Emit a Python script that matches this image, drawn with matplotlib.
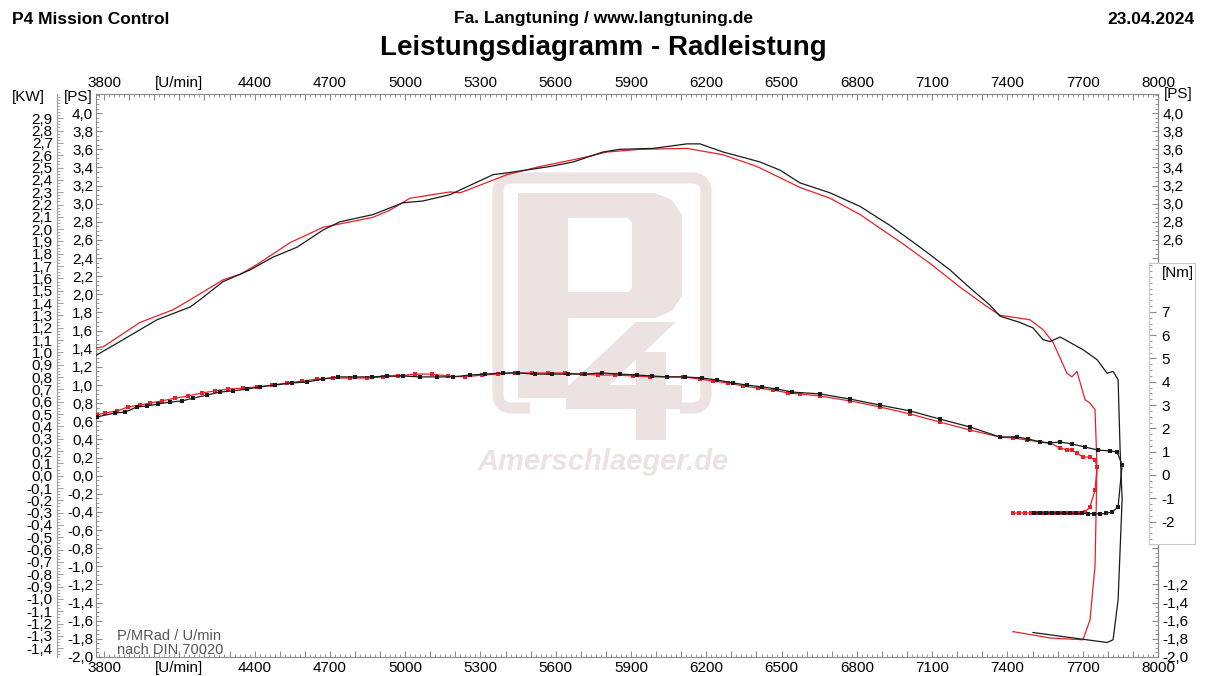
import matplotlib
matplotlib.use("Agg")
import numpy as np
import matplotlib.pyplot as plt
from matplotlib.ticker import MultipleLocator, FixedLocator, FuncFormatter
from matplotlib.patches import FancyBboxPatch, Polygon, Rectangle
from matplotlib.transforms import Affine2D

plt.rcParams['font.family'] = ['Liberation Sans', 'DejaVu Sans']

W, H = 1207, 676

# --- power (PS) over rpm, run 1 (black) and run 2 (red) ---
rpm_pw_black = [3770, 3876, 4011, 4143, 4182, 4274, 4382, 4473, 4569, 4673, 4740, 4872,
                4991, 5071, 5179, 5350, 5406, 5577, 5669, 5788, 5856, 5988, 6123, 6175,
                6267, 6362, 6414, 6494, 6573, 6693, 6813, 6932, 7052, 7171, 7251, 7331,
                7370, 7450, 7502, 7542, 7570, 7610, 7701, 7757, 7797, 7821, 7841, 7849,
                7857, 7841, 7821, 7797, 7502]
ps_black = [1.33, 1.50, 1.72, 1.86, 1.94, 2.14, 2.27, 2.41, 2.52, 2.71, 2.80, 2.88,
            3.01, 3.03, 3.10, 3.32, 3.34, 3.41, 3.46, 3.57, 3.60, 3.61, 3.66, 3.66,
            3.57, 3.50, 3.46, 3.37, 3.23, 3.12, 2.97, 2.76, 2.52, 2.27, 2.07, 1.88,
            1.76, 1.69, 1.63, 1.50, 1.48, 1.53, 1.39, 1.28, 1.13, 1.15, 1.06, 0.29,
            -0.26, -1.37, -1.81, -1.84, -1.73]

rpm_pw_red = [3770, 3796, 3943, 4075, 4143, 4274, 4342, 4410, 4541, 4673, 4872, 4940,
              5019, 5179, 5219, 5406, 5537, 5697, 5804, 5936, 6123, 6267, 6402, 6573,
              6693, 6813, 6892, 6972, 7092, 7211, 7311, 7370, 7490, 7542, 7582, 7637,
              7657, 7677, 7709, 7729, 7749, 7757, 7749, 7729, 7701, 7570, 7422]
ps_red = [1.41, 1.42, 1.69, 1.83, 1.94, 2.16, 2.22, 2.33, 2.57, 2.74, 2.85, 2.93,
          3.06, 3.13, 3.12, 3.32, 3.41, 3.50, 3.57, 3.60, 3.61, 3.54, 3.41, 3.18,
          3.06, 2.88, 2.73, 2.58, 2.34, 2.08, 1.88, 1.77, 1.72, 1.61, 1.47, 1.13,
          1.09, 1.15, 0.84, 0.80, 0.73, 0.10, -1.00, -1.59, -1.81, -1.79, -1.72]

# --- torque (Nm) over rpm ---
rpm_tq_black = [3770, 3844, 3884, 3931, 3971, 4015, 4063, 4111, 4155, 4210, 4262, 4314,
                4370, 4422, 4481, 4549, 4609, 4673, 4732, 4800, 4868, 4928, 4991, 5059,
                5127, 5191, 5258, 5318, 5390, 5450, 5517, 5585, 5649, 5717, 5784, 5856,
                5924, 5984, 6044, 6115, 6183, 6243, 6306, 6362, 6422, 6482, 6542, 6653,
                6773, 6892, 7012, 7131, 7251, 7370, 7438, 7482, 7530, 7570, 7610, 7657,
                7709, 7761, 7809, 7837, 7857, 7841, 7817, 7793, 7769, 7745, 7721, 7697,
                7673, 7649, 7625, 7601, 7578, 7554, 7530, 7506]
nm_black = [2.49, 2.66, 2.70, 2.92, 2.96, 3.05, 3.13, 3.18, 3.30, 3.43, 3.56, 3.61,
            3.69, 3.78, 3.86, 3.95, 3.99, 4.12, 4.21, 4.21, 4.21, 4.25, 4.25, 4.21,
            4.21, 4.21, 4.29, 4.33, 4.38, 4.38, 4.33, 4.33, 4.33, 4.33, 4.38, 4.33,
            4.29, 4.25, 4.21, 4.21, 4.16, 4.08, 3.95, 3.86, 3.78, 3.69, 3.56, 3.48,
            3.26, 3.00, 2.75, 2.40, 2.06, 1.63, 1.63, 1.55, 1.42, 1.37, 1.42, 1.33,
            1.20, 1.07, 1.03, 0.99, 0.43, -1.37, -1.59, -1.65, -1.67, -1.66, -1.66, -1.65,
            -1.65, -1.64, -1.64, -1.63, -1.63, -1.63, -1.63, -1.63]

rpm_tq_red = [3770, 3804, 3852, 3896, 3943, 3983, 4031, 4083, 4135, 4190, 4242, 4294,
              4354, 4410, 4469, 4529, 4589, 4649, 4712, 4780, 4848, 4912, 4971, 5039,
              5107, 5171, 5239, 5306, 5370, 5438, 5505, 5569, 5637, 5705, 5768, 5836,
              5908, 5976, 6044, 6107, 6175, 6227, 6286, 6346, 6406, 6466, 6526, 6573,
              6653, 6773, 6892, 7012, 7131, 7251, 7370, 7422, 7478, 7530, 7570, 7610,
              7637, 7657, 7677, 7701, 7729, 7749, 7757, 7749, 7729, 7709, 7685, 7661,
              7637, 7613, 7590, 7566, 7542, 7518, 7494, 7470, 7446, 7422]
nm_red = [2.58, 2.66, 2.75, 2.92, 3.00, 3.09, 3.18, 3.30, 3.39, 3.52, 3.61, 3.69,
          3.73, 3.78, 3.86, 3.95, 4.03, 4.12, 4.16, 4.16, 4.16, 4.21, 4.25, 4.33,
          4.33, 4.25, 4.21, 4.29, 4.33, 4.38, 4.38, 4.38, 4.38, 4.33, 4.29, 4.29,
          4.25, 4.21, 4.21, 4.21, 4.12, 4.03, 3.95, 3.82, 3.73, 3.65, 3.52, 3.48,
          3.39, 3.18, 2.92, 2.62, 2.27, 1.93, 1.63, 1.59, 1.50, 1.42, 1.37, 1.16,
          1.07, 1.07, 0.94, 0.77, 0.77, 0.64, 0.34, -0.64, -1.37, -1.59, -1.63, -1.63,
          -1.63, -1.63, -1.63, -1.63, -1.63, -1.63, -1.63, -1.63, -1.63, -1.63]

rpm_labels = {4100: '[U/min]'}
ps_ticks = np.round(np.arange(-2.0, 4.01, 0.2), 1)
ps_right_labels = [4.0, 3.8, 3.6, 3.4, 3.2, 3.0, 2.8, 2.6, -1.2, -1.4, -1.6, -1.8, -2.0]
kw_ticks = np.round(np.arange(-1.4, 2.95, 0.1), 1)
nm_ticks = [-2, -1, 0, 1, 2, 3, 4, 5, 6, 7]

BLACK = '#1a1a1a'
RED = '#e8202a'
GRID = '#8a8a8a'
WM = '#ede2e2'


def comma(v, pos=None):
    s = f"{v:.1f}".replace('.', ',')
    return '0,0' if s == '-0,0' else s


def rpm_fmt(v, pos=None):
    v = int(round(v))
    if v in rpm_labels:
        return rpm_labels[v]
    if (v - 3800) % 300 == 0:
        return str(v)
    return ''


def right_fmt(v, pos=None):
    if any(abs(v - r) < 1e-6 for r in ps_right_labels):
        return comma(v)
    return ''


fig = plt.figure(figsize=(W / 100, H / 100), dpi=100)
pix = Affine2D().scale(1 / W, -1 / H).translate(0, 1) + fig.transFigure

L, R, T, B = 96, 1158, 94, 657
ax = fig.add_axes([L / W, 1 - B / H, (R - L) / W, (B - T) / H])
ax.set_xlim(3768, 8000)
ax.set_ylim(-2.0, 4.21)
for s in ax.spines.values():
    s.set_color(GRID)
    s.set_linewidth(0.8)

# x ruler top and bottom
ax.xaxis.set_major_locator(MultipleLocator(100))
ax.xaxis.set_minor_locator(MultipleLocator(20))
ax.xaxis.set_major_formatter(FuncFormatter(rpm_fmt))
ax.tick_params(axis='x', which='both', direction='in', top=True, bottom=True,
               labeltop=True, labelbottom=True, color=GRID, labelsize=11, pad=3)
ax.tick_params(axis='x', which='major', length=4)
ax.tick_params(axis='x', which='minor', length=2)

# left PS axis
ax.yaxis.set_major_locator(FixedLocator(ps_ticks))
ax.yaxis.set_minor_locator(MultipleLocator(0.05))
ax.yaxis.set_major_formatter(FuncFormatter(comma))
ax.tick_params(axis='y', which='both', direction='in', left=True, right=False,
               color=GRID, labelsize=11, pad=2)
ax.tick_params(axis='y', which='major', length=4)
ax.tick_params(axis='y', which='minor', length=2)

# right PS axis
secr = ax.secondary_yaxis('right')
secr.yaxis.set_major_locator(FixedLocator(ps_ticks))
secr.yaxis.set_minor_locator(MultipleLocator(0.05))
secr.yaxis.set_major_formatter(FuncFormatter(right_fmt))
secr.tick_params(axis='y', which='both', direction='in', color=GRID, labelsize=11, pad=3)
secr.tick_params(axis='y', which='major', length=4)
secr.tick_params(axis='y', which='minor', length=2)
secr.spines['right'].set_color(GRID)

# KW axis
seck = ax.secondary_yaxis((57 - L) / (R - L),
                          functions=(lambda p: p * 0.7355, lambda k: k / 0.7355))
seck.yaxis.set_major_locator(FixedLocator(kw_ticks))
seck.yaxis.set_minor_locator(MultipleLocator(0.025))
seck.yaxis.set_major_formatter(FuncFormatter(comma))
seck.tick_params(axis='y', which='both', direction='in', color='#a0a0a0', labelsize=11, pad=3)
seck.tick_params(axis='y', which='major', length=4)
seck.tick_params(axis='y', which='minor', length=2)
seck.spines['left'].set_color('#a0a0a0')

# watermark logo
ax.add_patch(FancyBboxPatch((498, 178), 208, 230, boxstyle='round,pad=0,rounding_size=14',
                            fill=False, ec=WM, lw=8, transform=pix, zorder=1))
ax.add_patch(Rectangle((530, 400), 150, 20, fc='white', ec='none', transform=pix, zorder=1.05))
ax.add_patch(Polygon([(518, 193), (655, 193), (672, 200), (682, 215), (682, 296),
                      (672, 311), (655, 318), (568, 318), (568, 398), (518, 398)],
                     closed=True, fc=WM, ec='none', transform=pix, zorder=1.1))
ax.add_patch(Polygon([(568, 218), (628, 218), (632, 223), (632, 288), (628, 292), (568, 292)],
                     closed=True, fc='white', ec='none', transform=pix, zorder=1.15))
ax.add_patch(Polygon([(636, 322), (676, 322), (606, 388), (566, 388)],
                     closed=True, fc=WM, ec='none', transform=pix, zorder=1.2))
ax.add_patch(Rectangle((566, 385), 116, 24, fc=WM, ec='none', transform=pix, zorder=1.2))
ax.add_patch(Rectangle((636, 352), 30, 88, fc=WM, ec='none', transform=pix, zorder=1.2))
ax.text(603, 462, 'Amerschlaeger.de', transform=pix, ha='center', va='center',
        fontsize=21, fontweight='bold', style='italic', color=WM, zorder=1.3)

# power curves
ax.plot(rpm_pw_black, ps_black, color=BLACK, lw=0.9, zorder=3)
ax.plot(rpm_pw_red, ps_red, color=RED, lw=0.9, zorder=2.9)

# torque curves on Nm scale
axt = ax.twinx()
axt.set_ylim((475 - B) / 23.3, (475 - T) / 23.3)
axt.axis('off')
axt.plot(rpm_tq_red, nm_red, color=RED, lw=0.9, marker='s', ms=2.2, mew=0)
axt.plot(rpm_tq_black, nm_black, color=BLACK, lw=0.9, marker='s', ms=2.2, mew=0)

# Nm scale box
bx0, by0, bx1, by1 = 1149, 263, 1195, 544
axn = fig.add_axes([bx0 / W, 1 - by1 / H, (bx1 - bx0) / W, (by1 - by0) / H], zorder=5)
axn.set_xlim(0, 1)
axn.set_ylim((475 - by1) / 23.3, (475 - by0) / 23.3)
axn.set_xticks([])
axn.yaxis.set_major_locator(FixedLocator(nm_ticks))
axn.yaxis.set_minor_locator(MultipleLocator(0.25))
axn.yaxis.set_major_formatter(FuncFormatter(lambda v, p: f"{int(round(v))}"))
axn.tick_params(axis='y', which='both', direction='in', left=True, right=False,
                labelleft=False, labelright=True, color=GRID, labelsize=11, pad=-24)
axn.tick_params(axis='y', which='major', length=5)
axn.tick_params(axis='y', which='minor', length=2.5)
for s in axn.spines.values():
    s.set_color('#c8c8c8')
    s.set_linewidth(0.8)
axn.text(1162, 273, '[Nm]', transform=pix, ha='left', va='center', fontsize=11)

# texts
fig.text(12 / W, 1 - 19 / H, 'P4 Mission Control', fontsize=12.5, fontweight='bold', va='center')
fig.text(603 / W, 1 - 19 / H, 'Fa. Langtuning / www.langtuning.de', fontsize=12.5,
         fontweight='bold', ha='center', va='center')
fig.text(1195 / W, 1 - 19 / H, '23.04.2024', fontsize=12.5, fontweight='bold',
         ha='right', va='center')
fig.text(603 / W, 1 - 48 / H, 'Leistungsdiagramm - Radleistung', fontsize=20,
         fontweight='bold', ha='center', va='center')
fig.text(28 / W, 1 - 97 / H, '[KW]', fontsize=11, ha='center', va='center')
fig.text(78 / W, 1 - 97 / H, '[PS]', fontsize=11, ha='center', va='center')
fig.text(1178 / W, 1 - 94 / H, '[PS]', fontsize=11, ha='center', va='center')
ax.text(117, 636, 'P/MRad / U/min', transform=pix, fontsize=10.5, color='#555555', va='center')
ax.text(117, 650, 'nach DIN 70020', transform=pix, fontsize=10.5, color='#555555', va='center')

fig.savefig('out.png', dpi=100)
